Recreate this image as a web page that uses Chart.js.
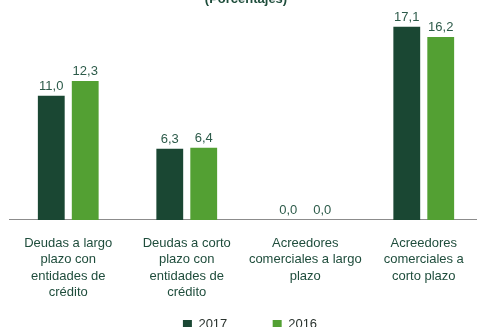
<!DOCTYPE html>
<html>
<head>
  <meta charset="utf-8">
  <script src="https://cdn.jsdelivr.net/npm/chart.js"></script>
  <style>
    html, body {
      margin: 0px;
      padding: 0px;
      overflow: hidden;
      background: #ffffff;
    }
    #barChart {
      position: absolute;
      left: 0px;
      top: -8px;
    }
  </style>
</head>
<body>
  <canvas id="barChart" width="486" height="349" style="width:486px;height:349px;"></canvas>

  <script>
    // Debt structure by type, percentages
    var categories = [
      ['Deudas a largo', 'plazo con', 'entidades de', 'crédito'],
      ['Deudas a corto', 'plazo con', 'entidades de', 'crédito'],
      ['Acreedores', 'comerciales a largo', 'plazo'],
      ['Acreedores', 'comerciales a', 'corto plazo']
    ];
    var values2017 = [11.0, 6.3, 0.0, 17.1];
    var values2016 = [12.3, 6.4, 0.0, 16.2];
    var seriesNames = ['2017', '2016'];

    var darkGreen = '#1a4733';
    var lightGreen = '#53a033';
    var textFont = "'Liberation Sans', Arial, sans-serif";

    // Writes the value above every bar, with a decimal comma
    var valueLabels = {
      id: 'valueLabels',
      afterDatasetsDraw: function(chart) {
        var ctx = chart.ctx;
        ctx.save();
        ctx.font = '13px ' + textFont;
        ctx.fillStyle = '#2d5b4a';
        ctx.textAlign = 'center';
        ctx.textBaseline = 'alphabetic';
        chart.data.datasets.forEach(function(ds, i) {
          var meta = chart.getDatasetMeta(i);
          meta.data.forEach(function(bar, j) {
            var txt = ds.data[j].toFixed(1).replace('.', ',');
            ctx.fillText(txt, bar.x, bar.y - 6);
          });
        });
        ctx.restore();
      }
    };

    // Nudges the legend a little to the right
    var legendShift = {
      id: 'legendShift',
      afterLayout: function(chart) {
        if (chart.legend) {
          chart.legend.left += 4;
          chart.legend.right += 4;
        }
      }
    };

    var config = {
      type: 'bar',
      data: {
        labels: categories,
        datasets: [{
          label: seriesNames[0],
          data: values2017,
          backgroundColor: darkGreen,
          barPercentage: 0.79,
          categoryPercentage: 0.573
        }, {
          label: seriesNames[1],
          data: values2016,
          backgroundColor: lightGreen,
          barPercentage: 0.79,
          categoryPercentage: 0.573
        }]
      },
      options: {
        responsive: false,
        animation: false,
        layout: {
          padding: { left: 9, right: 3, top: 0, bottom: 0 }
        },
        plugins: {
          title: {
            display: true,
            text: '(Porcentajes)',
            color: '#1e4d3b',
            font: { family: textFont, size: 13, weight: 'bold', lineHeight: 1.2 },
            padding: { top: 0, bottom: 0 }
          },
          legend: {
            position: 'bottom',
            labels: {
              boxWidth: 9,
              boxHeight: 9,
              padding: 2,
              color: '#2a332e',
              font: { family: textFont, size: 13 },
              generateLabels: function(chart) {
                var items = Chart.defaults.plugins.legend.labels.generateLabels(chart);
                // widen the first entry so the two keys sit apart
                items[0].text = items[0].text + '\u00a0'.repeat(12);
                return items;
              }
            }
          },
          tooltip: { enabled: false }
        },
        scales: {
          x: {
            grid: { display: false, drawTicks: false },
            border: { display: true, color: '#8c8c8c', width: 1 },
            ticks: {
              color: '#1f4d3c',
              font: { family: textFont, size: 13, lineHeight: 1.27 },
              padding: 15,
              maxRotation: 0,
              minRotation: 0,
              autoSkip: false
            }
          },
          y: {
            display: false,
            min: 0,
            max: 18.8
          }
        }
      },
      plugins: [valueLabels, legendShift]
    };

    var ctx = document.getElementById('barChart').getContext('2d');
    new Chart(ctx, config);
  </script>
</body>
</html>
